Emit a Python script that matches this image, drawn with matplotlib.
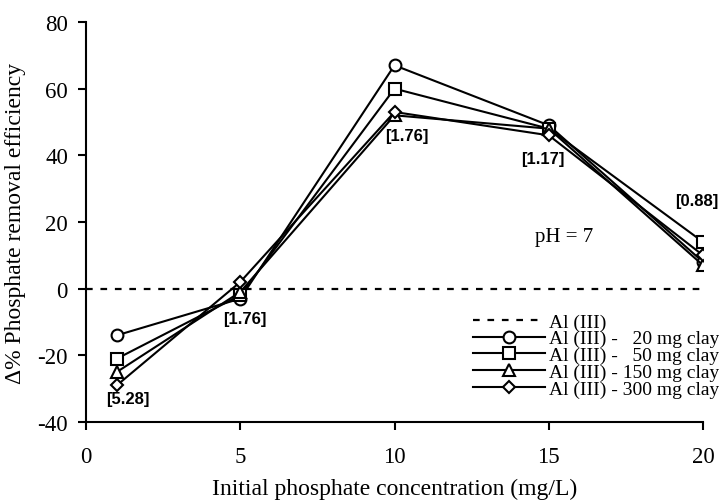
import matplotlib
matplotlib.use("Agg")
import matplotlib.pyplot as plt

plt.rcParams['font.family'] = ['Liberation Serif', 'DejaVu Serif']
plt.rcParams['axes.unicode_minus'] = False

# initial phosphate concentration (mg/L)
conc = [1, 5, 10, 15, 20]

# change in removal efficiency for each clay dose
clay_20 = [-14, -3, 67, 49, 8]
clay_50 = [-21, -2, 60, 48, 14]
clay_150 = [-25, -1, 52, 48, 7]
clay_300 = [-29, 2, 53, 46, 10]

series = [
    (clay_20, 'o', 8.5, 'Al (III) -   20 mg clay'),
    (clay_50, 's', 8, 'Al (III) -   50 mg clay'),
    (clay_150, '^', 8.5, 'Al (III) - 150 mg clay'),
    (clay_300, 'D', 6.5, 'Al (III) - 300 mg clay'),
]

# bracketed ratios written next to points
ratio_text = ['[5.28]', '[1.76]', '[1.76]', '[1.17]', '[0.88]']
ratio_x = [1.35, 5.15, 10.4, 14.8, 19.8]
ratio_y = [-33, -9, 46, 39, 26.5]

fig = plt.figure(figsize=(7.19, 5.02), dpi=100)
ax = fig.add_axes([0.1196, 0.1574, 0.8582, 0.7968])

ax.plot([0, 20], [0, 0], color='black', lw=1.6, linestyle=(0, (3, 3.5)), label='Al (III)')
for vals, mk, ms, lab in series:
    ax.plot(conc, vals, color='black', lw=1.5, marker=mk, markersize=ms,
            markerfacecolor='white', markeredgecolor='black', markeredgewidth=1.5,
            label=lab)

for t, x, y in zip(ratio_text, ratio_x, ratio_y):
    ax.text(x, y, t, ha='center', va='center', fontsize=12, fontweight='bold',
            family=['Liberation Sans', 'DejaVu Sans'])

ax.text(15.5, 15.5, 'pH = 7', ha='center', va='center', fontsize=15)

ax.set_xlim(0, 20)
ax.set_ylim(-40, 80)
ax.set_xticks([0, 5, 10, 15, 20])
ax.set_yticks([-40, -20, 0, 20, 40, 60, 80])
ax.tick_params(direction='out', length=6, width=1.5, labelsize=16.5)
ax.tick_params(axis='x', pad=11)
ax.tick_params(axis='y', pad=7)
for s in ['top', 'right']:
    ax.spines[s].set_visible(False)
for s in ['left', 'bottom']:
    ax.spines[s].set_linewidth(1.5)

ax.set_xlabel('Initial phosphate concentration (mg/L)', fontsize=17, labelpad=8)
ax.set_ylabel('\u0394% Phosphate removal efficiency', fontsize=17, labelpad=8)

ax.legend(loc='lower right', bbox_to_anchor=(1.0, 0.205), bbox_transform=fig.transFigure,
          frameon=False, fontsize=14, handlelength=3.7, handletextpad=0.2,
          labelspacing=-0.04, borderpad=0, borderaxespad=0)

fig.savefig('out.png', dpi=100)
